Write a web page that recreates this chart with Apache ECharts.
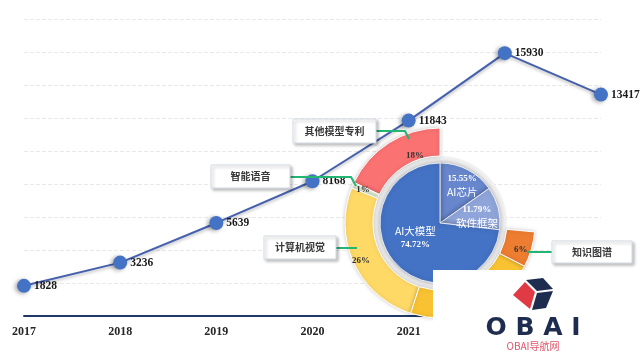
<!DOCTYPE html>
<html>
<head>
<meta charset="utf-8">
<script src="https://cdn.jsdelivr.net/npm/echarts@6/dist/echarts.min.js"></script>
<style>html,body{margin:0;padding:0;background:#fff;}#c{width:640px;height:360px;}</style>
</head>
<body>
<div id="c"></div>
<script>
// ---- data ----
const years = ['2017', '2018', '2019', '2020', '2021', '2022', '2023'];
const patents = [1828, 3236, 5639, 8168, 11843, 15930, 13417];
const innerNames = ['AI芯片', '软件框架', 'AI大模型'];
const innerValues = [15.55, 11.79, 74.72];
const ringNames = ['其他模型专利', '智能语音', '计算机视觉', '其他', '知识图谱', ''];
const ringValues = [18, 1, 26, 22.5, 6, 26.5];
const calloutNames = ['其他模型专利', '智能语音', '计算机视觉', '知识图谱'];

const innerColors = ['#6786CC', '#8FA5DA', '#4472C4'];
const ringColors = ['#FA7272', '#E4F1D6', '#FFD966', '#F9C232', '#ED7D31', 'rgba(0,0,0,0)'];
const serif = '"Liberation Serif", "Times New Roman", serif';
const cjk = '"Noto Sans CJK SC", sans-serif';

const chart = echarts.init(document.getElementById('c'), null, {renderer: 'canvas'});

const innerData = innerNames.map((n, i) => ({name: n, value: innerValues[i], itemStyle: {color: innerColors[i]}}));
const ringData = ringNames.map((n, i) => {
  const d = {name: n, value: ringValues[i], itemStyle: {color: ringColors[i]}};
  if (n === '') { d.itemStyle.borderWidth = 0; d.itemStyle.shadowBlur = 0; d.label = {show: false}; }
  return d;
});

const innerOffsets = [[7, -8], [5, 2], [0, -7]];
const ringOffsets = [[20, 4], [0, 0], [-3, 2], [0, 0], [0, 3], [0, 0]];

function box(x, y, w, h, text) {
  return [
    {type: 'rect', z: 50, shape: {x: x, y: y, width: w, height: h},
     style: {fill: '#fff', stroke: '#D5DCE6', lineWidth: 1, shadowBlur: 3, shadowOffsetX: 2, shadowOffsetY: 2, shadowColor: 'rgba(0,0,0,0.25)'}},
    {type: 'text', z: 51, x: x + w / 2, y: y + h / 2,
     style: {text: text, fill: '#3a3a3a', font: 'bold 10px ' + cjk, align: 'center', verticalAlign: 'middle'}}
  ];
}
function gline(points) {
  return {type: 'polyline', z: 49, shape: {points: points}, style: {stroke: '#22B573', lineWidth: 2, fill: null}};
}

const graphics = [].concat(
  box(293, 119, 83, 24, calloutNames[0]), [gline([[376, 131], [405, 131], [409, 139]])],
  box(211, 165, 79, 23, calloutNames[1]), [gline([[290, 177], [351, 177], [356, 186]])],
  box(264, 236, 72, 23, calloutNames[2]), [gline([[336, 248], [357, 248]])],
  box(552, 241, 80, 22, calloutNames[3]), [gline([[527, 252], [552, 252]])],
  [
    {type: 'rect', z: 100, shape: {x: 433, y: 270, width: 207, height: 90}, style: {fill: '#fff'}},
    {type: 'polygon', z: 101, shape: {points: [[513, 295], [525, 282], [535, 292], [530, 309]]}, style: {fill: '#E03A45'}},
    {type: 'polygon', z: 101, shape: {points: [[526, 280], [543, 278], [553, 289], [537, 291]]}, style: {fill: '#1E2D4F'}},
    {type: 'polygon', z: 101, shape: {points: [[537, 293], [553, 291], [546, 308], [532, 310]]}, style: {fill: '#1E2D4F'}},
    {type: 'text', z: 101, x: 533, y: 328, style: {text: 'O B A I', fill: '#1E2D4F', font: 'bold 25px "DejaVu Sans", sans-serif', align: 'center', verticalAlign: 'middle'}},
    {type: 'text', z: 101, x: 533, y: 346, style: {text: 'OBAI导航网', fill: '#E0566A', font: '10px ' + cjk, align: 'center', verticalAlign: 'middle'}}
  ]
);

const option = {
  backgroundColor: '#fff',
  animation: false,
  grid: {left: 24, right: 39, top: 19, bottom: 44, containLabel: false},
  xAxis: {
    type: 'category', data: years, boundaryGap: false,
    axisLine: {lineStyle: {color: '#1F3864', width: 2}},
    axisTick: {show: false},
    axisLabel: {color: '#262626', fontFamily: serif, fontWeight: 'bold', fontSize: 12, margin: 10}
  },
  yAxis: {
    type: 'value', min: 0, max: 18000, interval: 2000,
    axisLabel: {show: false}, axisLine: {show: false}, axisTick: {show: false},
    splitLine: {lineStyle: {color: '#E8E8E8', type: 'dashed', width: 1}}
  },
  series: [
    {
      type: 'line', data: patents, symbol: 'circle', symbolSize: 14, z: 2,
      lineStyle: {color: '#4560AC', width: 2, shadowColor: 'rgba(0,0,0,0.25)', shadowBlur: 3, shadowOffsetY: 2},
      itemStyle: {color: '#4472C4', shadowColor: 'rgba(0,0,0,0.35)', shadowBlur: 4, shadowOffsetX: -2, shadowOffsetY: 1},
      label: {show: true, position: 'right', distance: 3, color: '#1a1a1a', fontFamily: serif, fontWeight: 'bold', fontSize: 11.5}
    },
    {
      type: 'pie', center: [440, 223], radius: [60, 67], silent: true, z: 3,
      data: [{value: 1, itemStyle: {color: '#F1F1F1'}}], label: {show: false}, labelLine: {show: false}
    },
    {
      type: 'pie', center: [440, 223], radius: [67, 95], startAngle: 90, clockwise: false, z: 4,
      avoidLabelOverlap: false,
      data: ringData,
      itemStyle: {borderColor: '#fff', borderWidth: 1, shadowBlur: 4, shadowColor: 'rgba(0,0,0,0.2)'},
      label: {show: true, position: 'inside', formatter: p => p.value + '%', color: '#333', fontFamily: serif, fontWeight: 'bold', fontSize: 9},
      labelLine: {show: false},
      labelLayout: p => ({dx: ringOffsets[p.dataIndex][0], dy: ringOffsets[p.dataIndex][1]}),
      emphasis: {disabled: true}
    },
    {
      type: 'pie', center: [440, 223], radius: [0, 60], startAngle: 90, clockwise: true, z: 5,
      avoidLabelOverlap: false,
      data: innerData,
      itemStyle: {borderColor: 'rgba(255,255,255,0.8)', borderWidth: 1, shadowBlur: 5, shadowColor: 'rgba(0,0,0,0.3)'},
      label: {
        show: true, position: 'inside', color: '#fff', lineHeight: 13,
        formatter: p => p.name === 'AI大模型'
          ? '{n|' + p.name + '}\n{p|' + p.value.toFixed(2) + '%}'
          : '{p|' + p.value.toFixed(2) + '%}\n{n|' + p.name + '}',
        rich: {
          n: {color: '#fff', fontFamily: cjk, fontSize: 10.5, lineHeight: 14},
          p: {color: '#fff', fontFamily: serif, fontWeight: 'bold', fontSize: 9, lineHeight: 13}
        }
      },
      labelLine: {show: false},
      labelLayout: p => ({dx: innerOffsets[p.dataIndex][0], dy: innerOffsets[p.dataIndex][1]}),
      emphasis: {disabled: true}
    }
  ],
  graphic: graphics
};
chart.setOption(option);
</script>
</body>
</html>
